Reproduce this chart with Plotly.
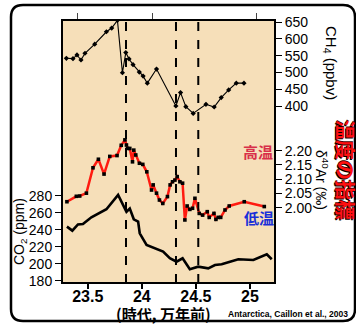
import plotly.graph_objects as go

# ---------------- data ----------------
ch4_age = [23.303, 23.364, 23.401, 23.438, 23.475, 23.565, 23.673, 23.722, 23.775,
           23.821, 23.852, 23.882, 23.919, 23.977, 24.012, 24.051, 24.136, 24.315,
           24.358, 24.407, 24.475, 24.593, 24.669, 24.734, 24.803, 24.873, 24.944]
ch4_ppbv = [542, 541, 552, 537, 557, 584, 621, 632, 655,
            499, 559, 540, 523, 501, 489, 468, 510, 400,
            440, 398, 378, 405, 397, 425, 448, 468, 468]

ar_age = [23.308, 23.395, 23.426, 23.488, 23.549, 23.599, 23.651, 23.704, 23.771,
          23.810, 23.844, 23.858, 23.868, 23.889, 23.914, 23.926, 23.944, 23.978,
          24.009, 24.046, 24.090, 24.105, 24.136, 24.163, 24.194, 24.237, 24.262,
          24.284, 24.306, 24.327, 24.352, 24.377, 24.398, 24.419, 24.444, 24.469,
          24.491, 24.531, 24.562, 24.605, 24.623, 24.667, 24.685, 24.706, 24.729,
          24.769, 24.808, 24.947, 25.132]
ar_d40 = [2.021, 2.040, 2.041, 2.051, 2.140, 2.170, 2.118, 2.180, 2.183,
          2.219, 2.238, 2.220, 2.208, 2.208, 2.161, 2.202, 2.185, 2.156,
          2.152, 2.126, 2.062, 2.080, 2.051, 2.027, 2.015, 2.039, 2.080,
          2.091, 2.097, 2.109, 2.091, 2.086, 1.957, 2.006, 1.994, 1.998,
          2.033, 1.980, 1.974, 1.986, 1.966, 1.980, 1.959, 1.966, 1.966,
          1.992, 2.006, 2.021, 2.004]

co2_age = [23.308, 23.358, 23.410, 23.456, 23.534, 23.595, 23.673, 23.781, 23.858,
           23.889, 23.926, 23.966, 23.981, 24.044, 24.105, 24.197, 24.259, 24.321,
           24.377, 24.444, 24.521, 24.614, 24.676, 24.738, 24.815, 24.892, 25.031,
           25.155, 25.201]
co2_ppm = [243.9, 239.2, 246.5, 247.0, 255.0, 258.8, 264.4, 281.2, 261.5,
           265.3, 252.6, 249.8, 236.1, 222.4, 219.6, 214.5, 206.7, 202.7,
           206.7, 193.8, 196.8, 194.9, 198.8, 199.6, 202.7, 205.5, 204.7,
           211.4, 205.5]

event_ages = [23.854, 24.316, 24.522]

x_ticks = [23.5, 24, 24.5, 25]
x_ticklabels = ["23.5", "24", "24.5", "25"]
top_ticks = [23.407, 24.102, 25.056]
co2_ticks = [180, 200, 220, 240, 260, 280]
ch4_ticks = [400, 450, 500, 550, 600, 650]
ar_ticks = [2.00, 2.05, 2.10, 2.15, 2.20]
ar_ticklabels = ["2.00", "2.05", "2.10", "2.15", "2.20"]

# ---------------- figure ----------------
FONT = "Arial, Liberation Sans, Helvetica, sans-serif"
CJK = "Noto Sans CJK JP, Noto Sans CJK SC, sans-serif"
TAN = "#f6dfb9"

fig = go.Figure()

fig.add_trace(go.Scatter(x=co2_age, y=co2_ppm, mode="lines",
                         line=dict(color="black", width=2.6),
                         xaxis="x", yaxis="y", showlegend=False))
fig.add_trace(go.Scatter(x=ch4_age, y=ch4_ppbv, mode="lines+markers",
                         line=dict(color="black", width=1.1),
                         marker=dict(symbol="diamond", size=4, color="black"),
                         xaxis="x", yaxis="y2", showlegend=False))
fig.add_trace(go.Scatter(x=ar_age, y=ar_d40, mode="lines+markers",
                         line=dict(color="#ff1a10", width=2.5),
                         marker=dict(symbol="square", size=3.6, color="black"),
                         xaxis="x", yaxis="y3", showlegend=False))
fig.add_trace(go.Scatter(x=[None], y=[None], xaxis="x2", yaxis="y",
                         showlegend=False, hoverinfo="skip"))

xr = [23.2625, 25.231]
fig.update_layout(
    width=356, height=327,
    margin=dict(l=62, r=81, t=20, b=44),
    paper_bgcolor="white", plot_bgcolor=TAN,
    font=dict(family=FONT, color="black"),
    xaxis=dict(range=xr, tickvals=x_ticks, ticktext=x_ticklabels,
               ticks="outside", ticklen=5, tickwidth=1.5, tickcolor="black",
               ticklabelstandoff=-6,
               showgrid=False, zeroline=False, showline=False,
               tickfont=dict(size=16, family=FONT, weight="bold")),
    xaxis2=dict(range=xr, overlaying="x", side="top", anchor="y",
                tickvals=top_ticks, ticks="outside", ticklen=6, tickwidth=1,
                tickcolor="#444", showticklabels=False, showgrid=False,
                zeroline=False, showline=False),
    yaxis=dict(range=[177.6, 487.1], tickvals=co2_ticks, side="left",
               ticks="outside", ticklen=6, tickwidth=1.2, tickcolor="black",
               showgrid=False, zeroline=False, showline=False,
               tickfont=dict(size=14)),
    yaxis2=dict(range=[-126.8, 656.0], tickvals=ch4_ticks, side="right",
                overlaying="y", anchor="x",
                ticks="outside", ticklen=6, tickwidth=1.2, tickcolor="black",
                showgrid=False, zeroline=False, showline=False,
                tickfont=dict(size=14)),
    yaxis3=dict(range=[1.7358, 2.6586], tickvals=ar_ticks, ticktext=ar_ticklabels,
                side="right", overlaying="y", anchor="x",
                ticks="outside", ticklen=6, tickwidth=1.2, tickcolor="black",
                showgrid=False, zeroline=False, showline=False,
                tickfont=dict(size=14)),
)

shapes = []
# plot frame
shapes.append(dict(type="rect", xref="paper", yref="paper", x0=0, x1=1, y0=0, y1=1,
                   line=dict(color="black", width=2), fillcolor="rgba(0,0,0,0)",
                   layer="above"))
# event dashed lines
for a in event_ages:
    shapes.append(dict(type="line", xref="x", yref="paper", x0=a, x1=a, y0=0, y1=1,
                       line=dict(color="black", width=2, dash="dash"), layer="above"))
# outer rounded box
x0, x1 = (11 - 62) / 213, (355 - 62) / 213
yt, yb = (283 - 5) / 263, (283 - 321) / 263
rx, ry = 12 / 213, 12 / 263
path = (f"M {x0+rx},{yt} L {x1-rx},{yt} Q {x1},{yt} {x1},{yt-ry} "
        f"L {x1},{yb+ry} Q {x1},{yb} {x1-rx},{yb} L {x0+rx},{yb} "
        f"Q {x0},{yb} {x0},{yb+ry} L {x0},{yt-ry} Q {x0},{yt} {x0+rx},{yt} Z")
shapes.append(dict(type="path", xref="paper", yref="paper", path=path,
                   line=dict(color="black", width=2.5), layer="below"))
fig.update_layout(shapes=shapes)


def px2x(px):
    return (px - 62) / 213


def px2y(py):
    return (283 - py) / 263


ann = []
ann.append(dict(x=px2x(20), y=px2y(232), text="CO<sub>2</sub> (ppm)", textangle=-90,
                font=dict(size=14, family=FONT)))
ann.append(dict(x=px2x(330), y=px2y(63), text="CH<sub>4</sub> (ppbv)", textangle=90,
                font=dict(size=15, family=FONT)))
ann.append(dict(x=px2x(322), y=px2y(180), text="δ<sup>40</sup>Ar (‰)", textangle=90,
                font=dict(size=14, family=FONT)))
ann.append(dict(x=px2x(346), y=px2y(170), text="温度の指標", textangle=90,
                font=dict(size=20, family=CJK, color="#ff1010", weight="bold",
                          shadow="1px 1px 0px #000, -1px 0px 0px #400")))
ann.append(dict(x=px2x(258), y=px2y(151), text="高温",
                font=dict(size=15, family=CJK, color="#d8304a", weight="bold")))
ann.append(dict(x=px2x(259), y=px2y(217), text="低温",
                font=dict(size=15, family=CJK, color="#1a2fd8", weight="bold")))
ann.append(dict(x=px2x(163), y=px2y(313), text="(時代, 万年前)",
                font=dict(size=15, family=CJK, weight="bold")))
ann.append(dict(x=px2x(288), y=px2y(314), text="Antarctica, Caillon et al., 2003",
                font=dict(size=8.5, family=FONT, weight="bold")))
for a in ann:
    a.update(xref="paper", yref="paper", showarrow=False, xanchor="center",
             yanchor="middle")
fig.update_layout(annotations=ann)

fig.write_html("out.html")
